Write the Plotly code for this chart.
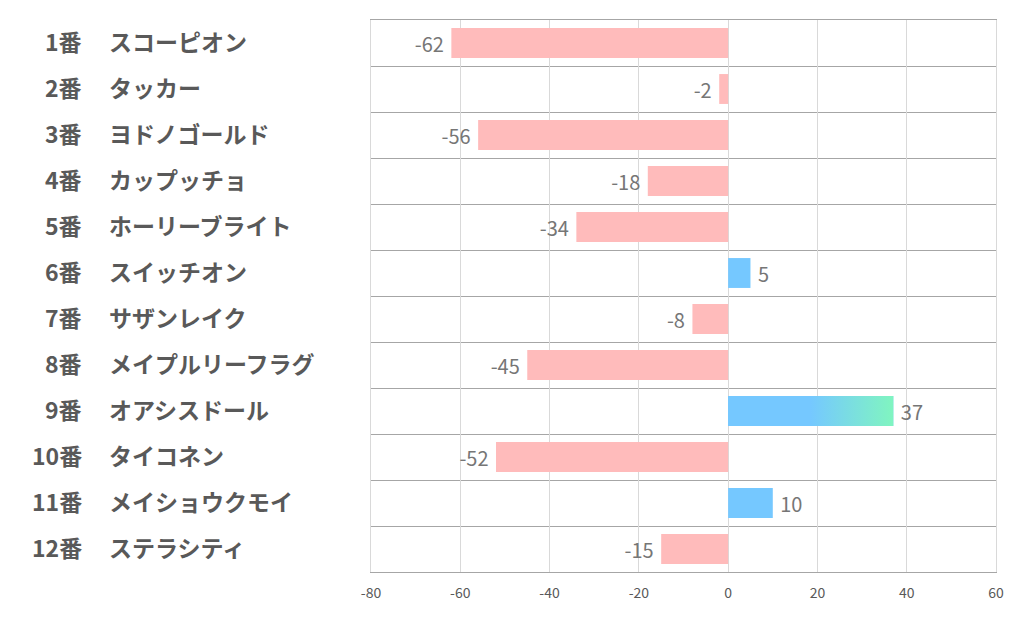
import plotly.graph_objects as go

numbers = ["1番", "2番", "3番", "4番", "5番", "6番", "7番", "8番", "9番", "10番", "11番", "12番"]
names = ["スコーピオン", "タッカー", "ヨドノゴールド", "カップッチョ", "ホーリーブライト", "スイッチオン",
         "サザンレイク", "メイプルリーフラグ", "オアシスドール", "タイコネン", "メイショウクモイ", "ステラシティ"]
values = [-62, -2, -56, -18, -34, 5, -8, -45, 37, -52, 10, -15]
x_ticks = [-80, -60, -40, -20, 0, 20, 40, 60]
x_tick_text = ["-80", "-60", "-40", "-20", "0", "20", "40", "60"]

PINK = "#ffbbbb"
BLUE = "#75c8ff"
GREEN = "#80f5c0"
BAR_W = 0.65
FONT = "Noto Sans CJK JP"

idx = list(range(len(values)))
max_v = max(values)
colors = [PINK if v < 0 else BLUE for v in values]
labels = [f"{v} " if v < 0 else f" {v}" for v in values]

fig = go.Figure()
fig.add_trace(go.Bar(
    x=values, y=idx, orientation="h", width=BAR_W,
    marker=dict(color=colors, line=dict(width=0)),
    text=labels, textposition="outside", cliponaxis=False,
    textfont=dict(family=FONT, size=20, color="#767676"),
    hoverinfo="skip",
))

# gradient overlay for the top value bar
gi = values.index(max_v)
fig.add_trace(go.Scatter(
    x=[0, max_v, max_v, 0, 0],
    y=[gi - BAR_W / 2, gi - BAR_W / 2, gi + BAR_W / 2, gi + BAR_W / 2, gi - BAR_W / 2],
    mode="lines", line=dict(width=0), fill="toself",
    fillgradient=dict(type="horizontal", colorscale=[[0, BLUE], [0.5, BLUE], [1, GREEN]]),
    hoverinfo="skip", showlegend=False,
))

# plot area is 625px wide
for i, (n, nm) in enumerate(zip(numbers, names)):
    fig.add_annotation(x=(84 - 371) / 625, xref="paper", y=i, yref="y", text=n, showarrow=False,
                       xanchor="right", yshift=2,
                       font=dict(family=FONT, size=23, color="#595959", weight="bold"))
    fig.add_annotation(x=(107 - 371) / 625, xref="paper", y=i, yref="y", text=nm, showarrow=False,
                       xanchor="left", yshift=2,
                       font=dict(family=FONT, size=23, color="#595959", weight="bold"))

fig.update_layout(
    width=1014, height=618,
    margin=dict(l=363, r=26, t=12, b=54),
    plot_bgcolor="white", paper_bgcolor="white",
    showlegend=False,
    xaxis=dict(range=[x_ticks[0], x_ticks[-1]], tickvals=x_ticks, ticktext=x_tick_text,
               showgrid=True, gridcolor="#d9d9d9",
               gridwidth=1, zeroline=False, showline=True, linecolor="#a6a6a6", mirror=True,
               tickfont=dict(family=FONT, size=14, color="#595959"), ticks="", ticklabelstandoff=8),
    yaxis=dict(range=[len(values) - 0.5, -0.5], showticklabels=False, showgrid=False, zeroline=False,
               showline=True, linecolor="#d9d9d9", mirror=True,
               minor=dict(tickvals=[i - 0.5 for i in range(len(values) + 1)], showgrid=True,
                          gridcolor="#a6a6a6", gridwidth=1, ticks="")),
)

fig.write_html("out.html")
